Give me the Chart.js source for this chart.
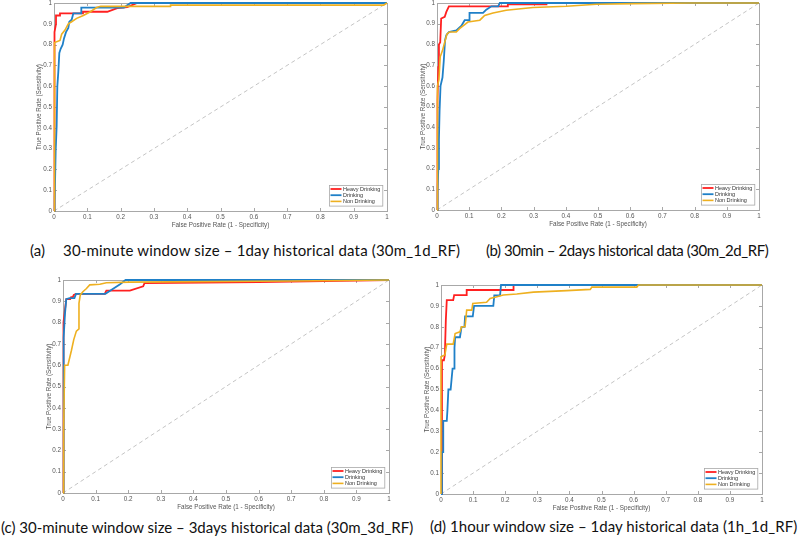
<!DOCTYPE html>
<html>
<head>
<meta charset="utf-8">
<script src="https://cdn.jsdelivr.net/npm/chart.js@4.4.1/dist/chart.umd.min.js"></script>
<style>
  html, body { margin: 0; padding: 0; background: #fff; }
  body { width: 800px; height: 543px; position: relative; overflow: hidden; }
  canvas { position: absolute; }
  .cap { position: absolute; font-family: Lato, sans-serif; font-size: 15px; line-height: 15px; color: #111; white-space: pre; }
</style>
</head>
<body>
<div class="cap" style="left:30px;top:243px">(a)</div>
<div class="cap" id="capA" style="left:63px;top:243px;letter-spacing:0.18px"></div>
<div class="cap" id="capB" style="left:486px;top:243px;letter-spacing:-0.45px"></div>
<div class="cap" id="capC" style="left:1px;top:520px"></div>
<div class="cap" id="capD" style="left:430px;top:519px;letter-spacing:0.05px"></div>

<script>
// ---- data (x = FPR, y = TPR) ----
const tickLabels = ['0', '0.1', '0.2', '0.3', '0.4', '0.5', '0.6', '0.7', '0.8', '0.9', '1'];
const seriesNames = ['Heavy Drinking', 'Drinking', 'Non Drinking'];
const captions = [
    '30-minute window size \u2013 1day historical data (30m_1d_RF)',
    '(b) 30min \u2013 2days historical data (30m_2d_RF)',
    '(c) 30-minute window size \u2013 3days historical data (30m_3d_RF)',
    '(d) 1hour window size \u2013 1day historical data (1h_1d_RF)'
];

// (a) 30m_1d_RF
const heavyA = [[0,0],[0,0.77],[0.003,0.86],[0.006,0.9],[0.006,0.94],[0.018,0.94],[0.018,0.95],[0.087,0.95],[0.087,0.958],[0.16,0.958],[0.19,0.975],[0.22,0.98],[0.25,1],[1,1]];
const drinkA = [[0,0],[0.002,0.05],[0.005,0.29],[0.008,0.41],[0.01,0.6],[0.013,0.67],[0.016,0.76],[0.02,0.78],[0.026,0.8],[0.03,0.83],[0.036,0.86],[0.043,0.88],[0.046,0.91],[0.053,0.92],[0.058,0.95],[0.082,0.95],[0.082,0.978],[0.21,0.978],[0.23,1],[1,1]];
const nonA = [[0,0],[0,0.77],[0.003,0.81],[0.018,0.82],[0.023,0.85],[0.033,0.87],[0.043,0.9],[0.053,0.91],[0.068,0.926],[0.088,0.94],[0.108,0.957],[0.128,0.978],[0.14,0.984],[0.35,0.984],[0.35,0.99],[0.99,0.99],[1,1]];

// (b) 30m_2d_RF
const heavyB = [[0,0],[0,0.374],[0.003,0.53],[0.004,0.69],[0.006,0.8],[0.01,0.81],[0.013,0.925],[0.024,0.933],[0.029,0.957],[0.037,0.984],[0.22,0.984],[0.22,0.994],[0.34,0.994],[0.34,1],[1,1]];
const drinkB = [[0,0],[0.002,0.1],[0.004,0.2],[0.006,0.34],[0.008,0.48],[0.011,0.6],[0.017,0.64],[0.021,0.72],[0.025,0.82],[0.029,0.845],[0.037,0.86],[0.06,0.868],[0.076,0.89],[0.086,0.917],[0.101,0.917],[0.101,0.952],[0.143,0.952],[0.153,0.968],[0.169,0.984],[0.19,0.984],[0.195,1],[1,1]];
const nonB = [[0,0],[0,0.37],[0.003,0.6],[0.006,0.63],[0.01,0.74],[0.017,0.77],[0.024,0.81],[0.031,0.85],[0.039,0.86],[0.06,0.86],[0.07,0.876],[0.081,0.89],[0.096,0.908],[0.133,0.917],[0.148,0.94],[0.174,0.952],[0.215,0.965],[0.298,0.978],[0.402,0.984],[0.495,0.994],[0.609,0.997],[0.785,1],[1,1]];

// (c) 30m_3d_RF
const heavyC = [[0,0],[0,0.27],[0.003,0.8],[0.006,0.86],[0.01,0.91],[0.022,0.91],[0.025,0.92],[0.03,0.92],[0.033,0.93],[0.04,0.935],[0.128,0.935],[0.133,0.95],[0.205,0.95],[0.246,0.97],[0.25,0.985],[0.6,0.99],[1,1]];
const drinkC = [[0,0],[0.001,0.5],[0.003,0.73],[0.006,0.84],[0.01,0.91],[0.02,0.915],[0.035,0.915],[0.04,0.935],[0.13,0.935],[0.155,0.96],[0.175,0.98],[0.192,1],[1,1]];
const nonC = [[0,0],[0.002,0.3],[0.005,0.6],[0.015,0.6],[0.026,0.67],[0.033,0.72],[0.041,0.76],[0.049,0.77],[0.049,0.89],[0.053,0.93],[0.061,0.945],[0.072,0.96],[0.082,0.977],[0.113,0.98],[0.133,0.987],[0.205,0.99],[0.7,0.995],[1,1]];

// (d) 1h_1d_RF
const heavyD = [[0,0],[0.003,0.537],[0.003,0.64],[0.009,0.64],[0.012,0.665],[0.015,0.83],[0.018,0.928],[0.038,0.928],[0.041,0.952],[0.08,0.952],[0.08,0.976],[0.226,0.976],[0.226,1],[1,1]];
const drinkD = [[0,0],[0.003,0.15],[0.003,0.2],[0.007,0.2],[0.007,0.35],[0.018,0.35],[0.02,0.4],[0.023,0.5],[0.03,0.5],[0.033,0.55],[0.036,0.6],[0.041,0.6],[0.042,0.7],[0.044,0.75],[0.059,0.75],[0.064,0.8],[0.073,0.8],[0.075,0.85],[0.099,0.85],[0.103,0.9],[0.163,0.9],[0.166,0.95],[0.184,0.95],[0.187,1],[1,1]];
const nonD = [[0,0],[0,0.657],[0.012,0.665],[0.018,0.717],[0.038,0.717],[0.044,0.768],[0.059,0.776],[0.064,0.8],[0.075,0.8],[0.08,0.88],[0.096,0.88],[0.099,0.912],[0.142,0.917],[0.153,0.936],[0.174,0.944],[0.194,0.952],[0.236,0.957],[0.288,0.966],[0.392,0.973],[0.465,0.979],[0.47,0.99],[0.61,0.99],[0.615,1],[1,1]];

const diagonal = [[0,0],[1,1]];

// ---- styling / layout ----
const colors = ['#ff2020', '#1f80c8', '#eeb020'];
const widths = [1.8, 1.8, 1.6];
const axisFont = { family: '"Liberation Sans", Arial, sans-serif', size: 6.3, lineHeight: 1.2 };
const textColor = '#555';

// plot rectangles in page pixels, plus where the axis titles sit
const panels = [
    { series: [heavyA, drinkA, nonA], area: { l: 54, t: 3, r: 387, b: 211 }, yTitleX: 39.5, xTitleY: 225 },
    { series: [heavyB, drinkB, nonB], area: { l: 437, t: 3, r: 759, b: 210 }, yTitleX: 423, xTitleY: 224 },
    { series: [heavyC, drinkC, nonC], area: { l: 63, t: 280, r: 389, b: 493 }, yTitleX: 49, xTitleY: 507 },
    { series: [heavyD, drinkD, nonD], area: { l: 441, t: 285, r: 762, b: 494 }, yTitleX: 427, xTitleY: 508 }
];

const toPoints = arr => arr.map(p => ({ x: p[0], y: p[1] }));

// box with Matlab-like inward tick marks
const axesBox = {
    id: 'axesBox',
    beforeDatasetsDraw(chart) {
        const { ctx, chartArea: a, scales: { x, y } } = chart;
        ctx.save();
        ctx.strokeStyle = '#a8a8a8';
        ctx.lineWidth = 1;
        ctx.strokeRect(a.left + 0.5, a.top + 0.5, a.right - a.left, a.bottom - a.top);
        ctx.beginPath();
        x.ticks.forEach(t => {
            const px = Math.round(x.getPixelForValue(t.value)) + 0.5;
            ctx.moveTo(px, a.bottom); ctx.lineTo(px, a.bottom - 3);
            ctx.moveTo(px, a.top); ctx.lineTo(px, a.top + 3);
        });
        y.ticks.forEach(t => {
            const py = Math.round(y.getPixelForValue(t.value)) + 0.5;
            ctx.moveTo(a.left, py); ctx.lineTo(a.left + 3, py);
            ctx.moveTo(a.right, py); ctx.lineTo(a.right - 3, py);
        });
        ctx.stroke();
        ctx.restore();
    }
};

// legend box in the lower right corner of the plot
const rocLegend = {
    id: 'rocLegend',
    afterDraw(chart) {
        const { ctx, chartArea } = chart;
        const items = chart.data.datasets.filter(d => d.label);
        ctx.save();
        ctx.font = '5.5px "Liberation Sans", Arial, sans-serif';
        const textW = Math.max(...items.map(d => ctx.measureText(d.label).width));
        const rowH = 6.2;
        const w = 14 + textW + 2;
        const h = items.length * rowH + 2;
        const x = Math.round(chartArea.right - 5 - w);
        const y = Math.round(chartArea.bottom - 5 - h);
        ctx.fillStyle = '#fff';
        ctx.fillRect(x, y, w, h);
        ctx.strokeStyle = '#a8a8a8';
        ctx.lineWidth = 0.8;
        ctx.strokeRect(x + 0.5, y + 0.5, w, h);
        items.forEach((d, i) => {
            const cy = y + 4 + i * rowH;
            ctx.strokeStyle = d.borderColor;
            ctx.lineWidth = d.borderWidth;
            ctx.beginPath();
            ctx.moveTo(x + 1.5, cy);
            ctx.lineTo(x + 12.5, cy);
            ctx.stroke();
            ctx.fillStyle = '#333';
            ctx.textBaseline = 'middle';
            ctx.fillText(d.label, x + 14, cy);
        });
        ctx.restore();
    }
};

function makePanel(p) {
    const a = p.area;
    const lh = axisFont.size * axisFont.lineHeight;
    const cLeft = a.l - 55, cTop = a.t - 10;
    const cW = a.r - a.l + 75, cH = a.b - a.t + 40;
    const padLeft = p.yTitleX - lh / 2 - cLeft;
    const yW = a.l - cLeft - padLeft;
    const xH = p.xTitleY + lh / 2 - a.b;

    const canvas = document.createElement('canvas');
    canvas.width = cW;
    canvas.height = cH;
    canvas.style.left = cLeft + 'px';
    canvas.style.top = cTop + 'px';
    canvas.style.width = cW + 'px';
    canvas.style.height = cH + 'px';
    document.body.appendChild(canvas);

    const datasets = [{
        data: toPoints(diagonal),
        borderColor: '#c4c4c4',
        borderWidth: 1,
        borderDash: [4, 3],
        pointRadius: 0,
        order: 4
    }];
    p.series.forEach((s, i) => datasets.push({
        label: seriesNames[i],
        data: toPoints(s),
        borderColor: colors[i],
        borderWidth: widths[i],
        pointRadius: 0,
        tension: 0,
        clip: false,
        order: 3 - i
    }));

    const axis = (title) => ({
        type: 'linear',
        min: 0,
        max: 1,
        grid: { display: false, drawTicks: false },
        border: { display: false },
        ticks: {
            stepSize: 0.1,
            padding: 2,
            autoSkip: false,
            maxRotation: 0,
            color: textColor,
            font: axisFont,
            callback: (v, i) => tickLabels[i]
        },
        title: { display: true, text: title, color: textColor, font: axisFont, padding: 0 }
    });

    const xAxis = axis('False Positive Rate (1 - Specificity)');
    xAxis.afterFit = s => { s.height = xH; };
    const yAxis = axis('True Positive Rate (Sensitivity)');
    yAxis.afterFit = s => { s.width = yW; };

    new Chart(canvas, {
        type: 'line',
        data: { datasets },
        options: {
            responsive: false,
            animation: false,
            devicePixelRatio: 1,
            layout: { padding: { left: padLeft, top: 10, right: 20, bottom: 30 - xH } },
            plugins: { legend: { display: false }, tooltip: { enabled: false } },
            scales: { x: xAxis, y: yAxis }
        },
        plugins: [axesBox, rocLegend]
    });
}

panels.forEach(makePanel);

document.getElementById('capA').textContent = captions[0];
document.getElementById('capB').textContent = captions[1];
document.getElementById('capC').textContent = captions[2];
document.getElementById('capD').textContent = captions[3];
</script>
</body>
</html>
